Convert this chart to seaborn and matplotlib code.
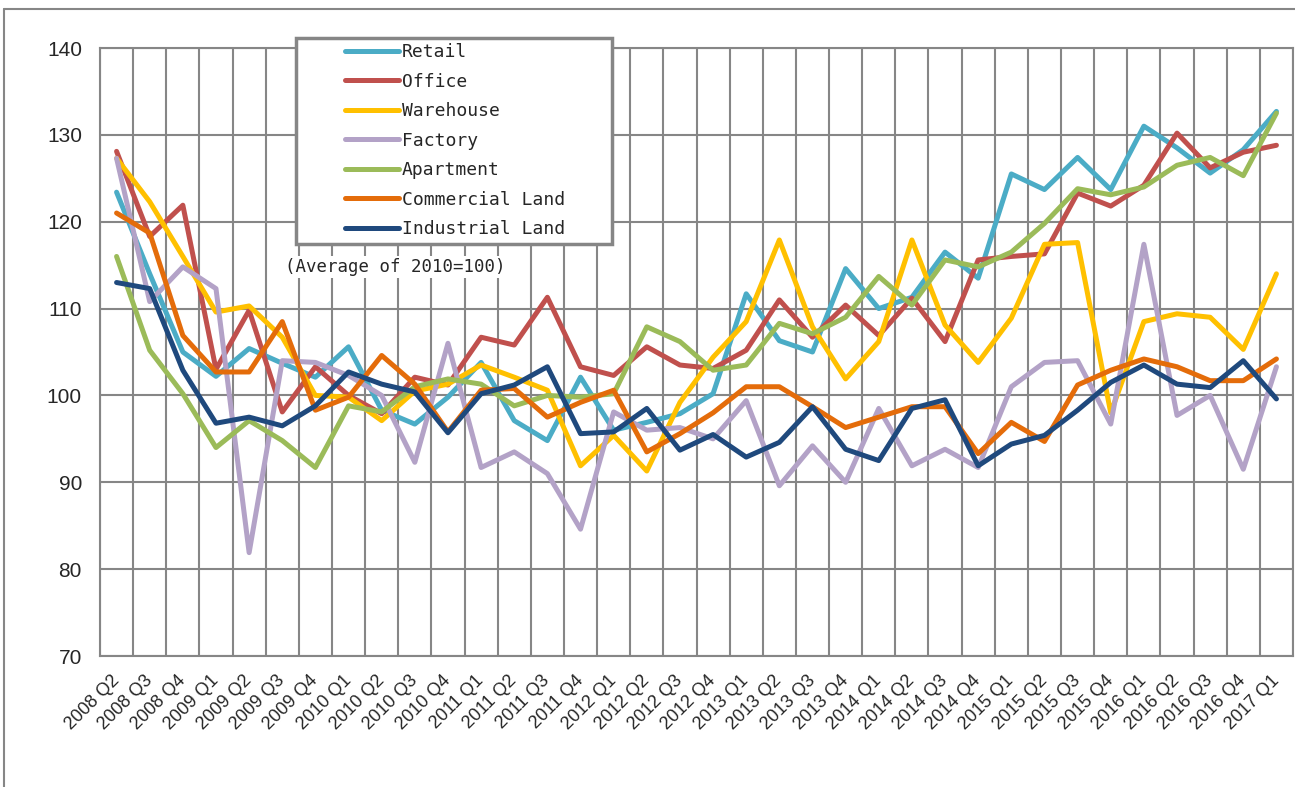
import numpy as np
import pandas as pd
import matplotlib
matplotlib.use("Agg")
import matplotlib.pyplot as plt
from matplotlib.lines import Line2D
from matplotlib.patches import Rectangle
import seaborn as sns

# quarters 2008 Q2 .. 2017 Q1
quarters = [f"{y} Q{q}" for y in range(2008, 2018) for q in range(1, 5)][1:37]

retail = [123.4, 114.0, 105.0, 102.2, 105.4, 103.7, 102.1, 105.6, 98.3, 96.7,
          99.8, 103.8, 97.1, 94.8, 102.1, 96.0, 96.9, 97.9, 100.2, 111.7,
          106.3, 105.0, 114.6, 110.0, 111.3, 116.5, 113.5, 125.5, 123.7, 127.4,
          123.7, 131.0, 128.5, 125.6, 128.3, 132.7]
office = [128.1, 118.3, 121.9, 103.0, 109.8, 98.1, 103.3, 100.0, 97.9, 102.1,
          101.2, 106.7, 105.8, 111.3, 103.3, 102.3, 105.6, 103.5, 103.1, 105.2,
          111.0, 106.7, 110.4, 106.9, 111.2, 106.2, 115.6, 116.0, 116.3, 123.3,
          121.8, 124.2, 130.2, 126.2, 128.0, 128.8]
warehouse = [127.3, 122.3, 116.0, 109.6, 110.3, 106.7, 100.0, 99.8, 97.1, 100.5,
             101.3, 103.5, 102.1, 100.6, 91.9, 95.4, 91.3, 99.2, 104.4, 108.5,
             117.9, 107.9, 101.9, 106.2, 117.9, 108.1, 103.8, 108.9, 117.4, 117.6,
             98.0, 108.5, 109.4, 109.0, 105.3, 114.0]
factory = [127.3, 110.8, 114.8, 112.3, 81.9, 104.0, 103.8, 102.3, 100.0, 92.3,
           106.0, 91.7, 93.5, 91.0, 84.6, 98.1, 96.0, 96.3, 95.0, 99.4,
           89.6, 94.2, 90.0, 98.5, 91.9, 93.8, 91.7, 101.0, 103.8, 104.0,
           96.7, 117.4, 97.7, 100.0, 91.5, 103.3]
apartment = [116.0, 105.2, 100.2, 94.0, 97.1, 94.8, 91.7, 98.8, 98.1, 101.0,
             101.9, 101.3, 98.8, 100.0, 99.8, 100.2, 107.9, 106.2, 102.9, 103.5,
             108.3, 107.1, 109.0, 113.7, 110.4, 115.6, 114.8, 116.5, 119.8, 123.8,
             123.1, 124.0, 126.5, 127.4, 125.3, 132.5]
commercial = [121.0, 118.7, 106.9, 102.7, 102.7, 108.5, 98.3, 99.8, 104.6, 101.3,
              95.8, 100.6, 100.8, 97.5, 99.2, 100.6, 93.5, 95.6, 98.0, 101.0,
              101.0, 98.7, 96.3, 97.5, 98.7, 98.7, 93.3, 96.9, 94.7, 101.2,
              102.9, 104.2, 103.3, 101.7, 101.7, 104.2]
industrial = [113.0, 112.3, 102.9, 96.8, 97.5, 96.5, 98.8, 102.7, 101.3, 100.4,
              95.7, 100.2, 101.2, 103.3, 95.6, 95.8, 98.5, 93.7, 95.5, 92.9,
              94.6, 98.7, 93.8, 92.5, 98.5, 99.5, 91.9, 94.4, 95.4, 98.3,
              101.5, 103.5, 101.3, 100.9, 104.0, 99.6]

series_names = ["Retail", "Office", "Warehouse", "Factory", "Apartment",
                "Commercial Land", "Industrial Land"]
series_values = [retail, office, warehouse, factory, apartment, commercial, industrial]
colors = ["#4BACC6", "#C0504D", "#FFC000", "#B3A2C7", "#9BBB59", "#E46C0A", "#1F497D"]

GRID = "#868686"
W, H = 1295, 787

sns.set_style("white")
tick_font = ["Liberation Sans", "DejaVu Sans"]
mono_font = ["DejaVu Sans Mono"]

df = pd.DataFrame({
    "quarter": quarters * len(series_names),
    "index": np.concatenate(series_values),
    "type": np.repeat(series_names, len(quarters)),
})

fig = plt.figure(figsize=(W / 100, H / 100), dpi=100)
ax = fig.add_axes([100 / W, 1 - 656 / H, (1293 - 100) / W, (656 - 48) / H])

sns.lineplot(data=df, x="quarter", y="index", hue="type", hue_order=series_names,
             palette=colors, sort=False, linewidth=3.6, ax=ax,
             solid_capstyle="round", solid_joinstyle="round")

ax.set_xlim(-0.5, len(quarters) - 0.5)
ax.set_ylim(70, 140)
ax.set_yticks(np.arange(70, 141, 10))
ax.set_xticks(range(len(quarters)))
ax.set_xticklabels(quarters, rotation=45, ha="right", va="center",
                   rotation_mode="anchor", family=tick_font, fontsize=13)
ax.set_xticks(np.arange(-0.5, len(quarters), 1), minor=True)
for lab in ax.get_yticklabels():
    lab.set_family(tick_font)
    lab.set_fontsize(15)
ax.set_xlabel("")
ax.set_ylabel("")

ax.grid(True, which="minor", axis="x", color=GRID, lw=1.5)
ax.grid(True, which="major", axis="y", color=GRID, lw=1.5)
ax.set_axisbelow(True)
ax.tick_params(axis="x", which="major", length=0, pad=16)
ax.tick_params(axis="x", which="minor", length=5, width=1.5, color=GRID)
ax.tick_params(axis="y", which="major", length=5, width=1.5, color=GRID, pad=8)
for sp in ax.spines.values():
    sp.set_color(GRID)
    sp.set_linewidth(1.5)

# legend in an Excel-like box
handles, labels = ax.get_legend_handles_labels()
ax.get_legend().remove()
box = Rectangle((296 / W, 1 - 244 / H), (612 - 296) / W, (244 - 38) / H,
                transform=fig.transFigure, facecolor="white", edgecolor=GRID,
                lw=2.5, zorder=2)
fig.patches.append(box)
leg = fig.legend(handles, labels, loc="upper left",
                 bbox_to_anchor=(345 / W, 1 - 43 / H), frameon=False,
                 prop={"family": mono_font, "size": 13}, handlelength=3.0,
                 handletextpad=0.15, labelspacing=0.64, borderpad=0,
                 borderaxespad=0)
leg.set_zorder(3)
for h in leg.legend_handles:
    h.set_solid_capstyle("round")

fig.text(285 / W, 1 - 267 / H, "(Average of 2010=100)", family=mono_font,
         fontsize=12.5, ha="left", va="center",
         bbox=dict(facecolor="white", edgecolor="none", pad=1.5))

# chart area border
fig.add_artist(Line2D([4 / W, 4 / W], [0, 1 - 9 / H], transform=fig.transFigure,
                      color=GRID, lw=1.5))
fig.add_artist(Line2D([4 / W, 1], [1 - 9 / H, 1 - 9 / H], transform=fig.transFigure,
                      color=GRID, lw=1.5))

fig.savefig("out.png", dpi=100)
plt.close(fig)
